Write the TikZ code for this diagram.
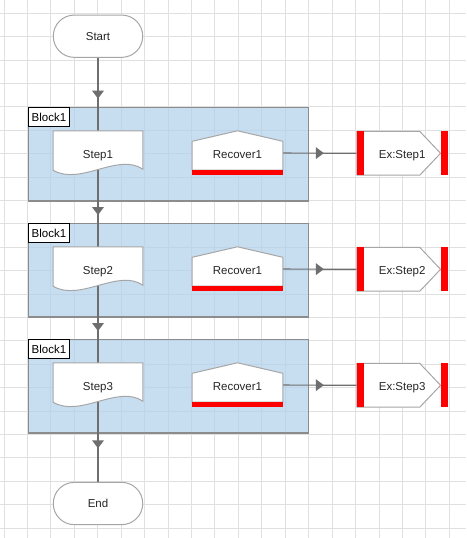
\documentclass[tikz,border=0pt]{standalone}
\usepackage{fontspec}
\setmainfont{Liberation Sans}
\usepackage{xcolor}
\usepackage{tikz}
\usetikzlibrary{positioning, calc, decorations.markings}
\definecolor{gridgray}{HTML}{E0E0E0}
\definecolor{blockblue}{HTML}{B0D0EC}
\definecolor{blockedge}{HTML}{8C8C8C}
\definecolor{shapeedge}{HTML}{A6A6A6}
\definecolor{linkgray}{HTML}{6E6E6E}
\definecolor{exred}{HTML}{FF0000}
\definecolor{txtgray}{HTML}{262626}
\pgfdeclarelayer{gridlayer}
\pgfdeclarelayer{linklayer}
\pgfdeclarelayer{shapelayer}
\pgfsetlayers{gridlayer,linklayer,shapelayer,main}

\begin{document}
\begin{tikzpicture}[
    x=1pt, y=-1pt,
    every node/.style={font=\fontsize{11.5}{13}\selectfont, text=txtgray},
    gridline/.style={gridgray, line width=1pt},
    terminal/.style={draw=shapeedge, fill=white, line width=1pt, rounded corners=21pt, minimum width=89.4pt, minimum height=42.3pt},
    innertext/.style={inner sep=0pt, text height=12pt, text depth=2pt},
    stepbox/.style={innertext, minimum width=89.4pt, minimum height=44pt},
    recbox/.style={innertext, minimum width=90.4pt, minimum height=44pt},
    exbox/.style={innertext, minimum width=90.3pt, minimum height=43.3pt},
    block/.style={draw=blockedge, line width=1.3pt, fill=blockblue, fill opacity=0.7, minimum width=280pt, minimum height=93.7pt},
    blocklabel/.style={draw=black, line width=1pt, fill=white, text=black, anchor=north west, minimum width=41.7pt, minimum height=19.4pt, inner sep=0pt},
    outline/.style={draw=shapeedge, fill=white, line width=1pt},
    redbar/.style={fill=exred},
    link/.style={draw=linkgray, line width=1.2pt, postaction={decorate},
        decoration={markings, mark=at position 0.5 with {\fill[linkgray] (4pt,0pt) -- (-4pt,6pt) -- (-4pt,-6pt) -- cycle;}}},
]
\useasboundingbox (0,0) rectangle (466,538);

% Grid
\begin{pgfonlayer}{gridlayer}
\fill[white] (0,0) rectangle (466,538);
\foreach \k in {0,...,19} {
    \draw[gridline] (4+23.44*\k,0) -- (4+23.44*\k,538);
}
\foreach \k in {0,...,22} {
    \draw[gridline] (0,13.3+23.4*\k) -- (466,13.3+23.4*\k);
}
\end{pgfonlayer}

% Terminals
\node[terminal] (start) at (98,36.2) {Start};
\node[terminal] (end) at (98,503.5) {End};

% Blocks
\foreach \i in {1,2,3} {
    \pgfmathsetmacro{\dy}{116*(\i-1)}
    \begin{pgfonlayer}{gridlayer}
    \node[block] (block\i) at (168.3,154.2+\dy) {};
    \end{pgfonlayer}
    \node[blocklabel] (label\i) at (block\i.north west) {Block1};
    \node[stepbox] (step\i) at (98,153+\dy) {Step\i};
    \node[recbox] (rec\i) at (237.5,153+\dy) {Recover1};
    \node[exbox] (ex\i) at (402.2,153.3+\dy) {Ex:Step\i};
}

% Links
\begin{pgfonlayer}{linklayer}
\draw[link] (start.center) -- (step1.center);
\draw[link] (step1.center) -- (step2.center);
\draw[link] (step2.center) -- (step3.center);
\draw[link] (step3.center) -- (end.center);
\foreach \i in {1,2,3} {
    \draw[link] (rec\i.center) -- (ex\i.center);
}
\end{pgfonlayer}

% Shapes
\begin{pgfonlayer}{shapelayer}
\foreach \i in {1,2,3} {
    % document
    \draw[outline] (step\i.north west) -- (step\i.north east) -- ($(step\i.south east)+(0,-6)$)
        .. controls ($(step\i.south east)+(-25,-23)$) and ($(step\i.south west)+(27,11)$) .. ($(step\i.south west)+(0,-5)$) -- cycle;
    % recover
    \draw[outline] ($(rec\i.south west)+(0,-5)$) -- ($(rec\i.north west)+(0,10.5)$) -- (rec\i.north)
        -- ($(rec\i.north east)+(0,10.5)$) -- ($(rec\i.south east)+(0,-5)$) -- cycle;
    \fill[redbar] ($(rec\i.south west)+(0,-5)$) rectangle (rec\i.south east);
    % exception
    \draw[outline] (ex\i.north west) -- ($(ex\i.north west)+(63,0)$) -- ($(ex\i.east)+(-7,0)$)
        -- ($(ex\i.south west)+(63,0)$) -- (ex\i.south west) -- cycle;
    \fill[redbar] (ex\i.north west) rectangle ($(ex\i.south west)+(7,0)$);
    \fill[redbar] ($(ex\i.north east)+(-6.6,0)$) rectangle (ex\i.south east);
}
\end{pgfonlayer}

\end{tikzpicture}
\end{document}
